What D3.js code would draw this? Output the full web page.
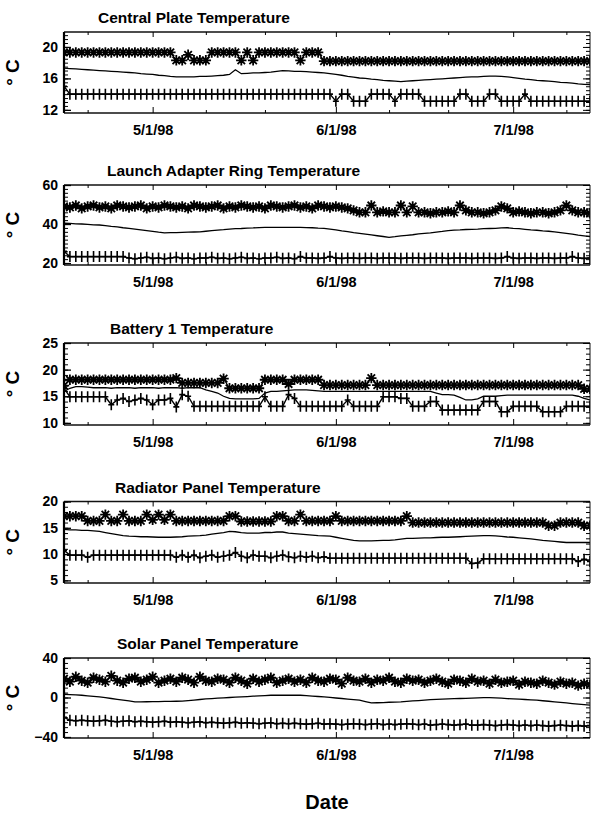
<!DOCTYPE html>
<html><head><meta charset="utf-8">
<script src="https://cdn.jsdelivr.net/npm/d3@7"></script>
<style>
body{margin:0;background:#fff}
svg{display:block}
text{font-family:"Liberation Sans",Arial,sans-serif;font-weight:bold;fill:#000}
</style>
</head><body><svg id="c" width="592" height="813"></svg>
<script>
// ---------------- data ----------------
const panelTitles = ["Central Plate Temperature","Launch Adapter Ring Temperature","Battery 1 Temperature","Radiator Panel Temperature","Solar Panel Temperature"];
const startDay = "1998-04-16", endDay = "1998-07-14";
const dateTicks = ["1998-05-01","1998-06-01","1998-07-01"];
const dateTickLabels = ["5/1/98","6/1/98","7/1/98"];
const dateMinorTicks = ["1998-04-20","1998-05-10","1998-05-20","1998-06-10","1998-06-20","1998-07-10"];
const yDomains = [[11.6,21.9],[19,60],[9.6,25],[4.5,20],[-41,40]];
const yTicks = [[12,16,20],[20,40,60],[10,15,20,25],[5,10,15,20],[-40,0,40]];
const yMinorSteps = [0.5,2,1,1,5];
const yAxisLabel = "° C";
const xAxisLabel = "Date";

// Central Plate
const cpMax = [19.3,19.3,19.3,19.3,19.3,19.3,19.3,19.3,19.3,19.3,
19.3,19.3,19.3,19.3,19.3,19.3,19.3,19.3,19.3,18.3,
18.3,19.0,18.3,18.3,18.3,19.3,19.3,19.3,19.3,19.3,
18.3,19.3,18.3,19.3,19.3,19.3,19.3,19.3,19.3,19.3,
18.3,19.3,19.3,19.3,18.2,18.2,18.2,18.2,18.2,18.2,
18.2,18.2,18.2,18.2,18.2,18.2,18.2,18.2,18.2,18.2,
18.2,18.2,18.2,18.2,18.2,18.2,18.2,18.2,18.2,18.2,
18.2,18.2,18.2,18.2,18.2,18.2,18.2,18.2,18.2,18.2,
18.2,18.2,18.2,18.2,18.2,18.2,18.2,18.2,18.2,18.2];
const cpAvg = [17.3,17.25,17.2,17.15,17.1,17.05,17.0,16.95,16.9,16.85,
16.8,16.75,16.7,16.6,16.55,16.5,16.4,16.35,16.25,16.2,
16.2,16.2,16.2,16.25,16.25,16.3,16.35,16.4,16.5,17.1,
16.6,16.65,16.7,16.7,16.75,16.8,16.9,17.0,16.95,16.9,
16.9,16.85,16.8,16.75,16.7,16.6,16.5,16.4,16.25,16.15,
16.05,16.0,15.9,15.85,15.75,15.7,15.65,15.6,15.65,15.7,
15.75,15.8,15.85,15.9,15.95,16.0,16.05,16.1,16.15,16.2,
16.2,16.25,16.3,16.3,16.25,16.2,16.1,16.0,15.9,15.85,
15.75,15.7,15.65,15.6,15.5,15.45,15.4,15.3,15.25,15.2];
const cpMin = [15.0,14,14,14,14,14,14,14,14,14,
14,14,14,14,14,14,14,14,14,14,
14,14,14,14,14,14,14,14,14,14,
14,14,14,14,14,14,14,14,14,14,
14,14,14,14,14,14,13.1,14,14,13.1,
13.1,13.1,14,14,14,14,13.1,14,14,14,
14,13.1,13.1,13.1,13.1,13.1,13.1,14,14,13.1,
13.1,13.1,14,14,13.1,13.1,13.1,13.1,14,13.1,
13.1,13.1,13.1,13.1,13.1,13.1,13.1,13.1,13.1,13.1];

// Launch Adapter Ring
const lrMax = [49,48.5,49.5,48,49,49.5,48.5,49,48,49.5,
49,48.5,49,49.5,48,49,48.5,49.5,49,48.5,
49,48,49.5,49,48.5,49,49.5,48,49,48.5,
49.5,49,48.5,49,48,49.5,49,48.5,49,49.5,
48.5,49,48,49.5,49,48.5,49,48.5,48,47,
46,46,49.5,46,46.5,46,46,49.5,46,49,
46,46,45.5,46,46,46.5,46,49.5,47,46,
46,45.5,46,47,49,48,46,46.5,46,45.5,
46,46,45.5,46,47,49.5,47,46,46,45.5];
const lrAvg = [40.4,40.3,40.1,40.0,39.8,39.6,39.5,39.2,38.8,38.5,
38.1,37.8,37.4,37.0,36.6,36.2,35.8,35.5,35.6,35.6,
35.7,35.8,35.9,36.0,36.3,36.6,36.9,37.1,37.4,37.6,
37.7,37.9,38.0,38.2,38.3,38.3,38.3,38.3,38.3,38.3,
38.3,38.2,38.1,37.9,37.8,37.4,37.0,36.5,36.1,35.6,
35.2,34.8,34.4,34.0,33.6,33.2,33.5,33.9,34.2,34.5,
34.9,35.2,35.5,35.9,36.2,36.6,36.9,37.0,37.2,37.3,
37.4,37.6,37.7,37.8,38.0,38.1,37.8,37.6,37.3,37.0,
36.8,36.5,36.3,36.0,35.6,35.2,34.8,34.3,33.9,33.5];
const lrMin = [26,23.3,23.3,23.3,23.3,23.3,23.3,23.3,23.3,23.3,
23.3,22.6,22.2,22.6,23.0,22.4,22.6,22.2,22.6,23.0,
22.4,22.6,22.2,22.6,22.6,23.0,22.4,22.6,22.2,22.6,
23.0,22.4,22.6,22.2,22.6,22.6,23.0,22.4,22.6,22.2,
23.3,22.6,22.6,22.4,22.6,23.3,22.6,22.4,22.6,22.6,
22.4,22.6,22.6,22.4,22.6,22.6,22.6,22.4,22.6,22.6,
22.6,22.4,22.6,22.6,22.6,22.4,22.6,22.6,22.6,22.4,
22.6,22.6,22.6,22.4,22.6,23.3,22.6,22.4,22.6,22.6,
22.4,22.6,22.6,22.4,22.6,22.6,23.3,22.6,22.4,22.6];

// Battery 1
const btMax = [17.0,18.1,18.1,18.1,18.1,18.1,18.1,18.1,18.1,18.1,
18.1,18.1,18.1,18.1,18.1,18.1,18.1,18.1,18.1,18.4,
17.5,17.5,17.5,17.5,17.5,17.5,17.5,18.3,16.5,16.5,
16.5,16.5,16.5,16.5,18.1,18.1,18.1,18.1,17.3,18.1,
18.1,18.1,18.1,18.1,17.1,17.1,17.1,17.1,17.1,17.1,
17.1,17.1,18.4,17.1,17.1,17.1,17.1,17.1,17.1,17.1,
17.1,17.1,17.1,17.1,17.1,17.1,17.1,17.1,17.1,17.1,
17.1,17.1,17.1,17.1,17.1,17.1,17.1,17.1,17.1,17.1,
17.1,17.1,17.1,17.1,17.1,17.1,17.1,17.1,16.4,16.4];
const btAvg = [15.9,16.5,16.8,16.8,16.7,16.6,16.6,16.6,16.5,16.6,
16.6,16.6,16.5,16.6,16.6,16.6,16.5,16.6,16.6,16.6,
16.5,16.6,16.6,16.6,16.2,15.9,15.6,15.0,14.6,14.5,
14.5,14.5,14.5,14.6,15.6,15.9,15.9,16.0,16.1,16.2,
16.2,16.2,16.1,16.0,15.9,15.9,15.9,15.9,15.9,15.9,
15.9,15.9,15.9,15.9,15.9,15.9,15.9,15.9,15.9,15.9,
15.9,15.9,15.9,15.6,15.3,15.3,15.2,14.8,14.3,14.3,
14.5,15.0,15.0,15.0,15.1,15.2,15.2,15.2,15.2,15.2,
15.2,15.2,15.2,15.2,15.2,15.2,15.2,15.0,14.6,14.3];
const btMin = [16.5,14.9,14.9,14.9,14.9,14.9,14.9,14.9,13.4,14.3,
14.6,14.0,14.3,14.6,14.3,13.4,14.3,14.3,14.6,13.0,
15.3,15.0,13.1,13.1,13.1,13.1,13.1,13.1,13.1,13.1,
13.1,13.1,13.1,13.1,14.9,13.1,13.1,13.1,15.3,14.6,
13.1,13.1,13.1,13.1,13.1,13.1,13.1,13.1,14.3,13.1,
13.1,13.1,13.1,13.1,14.9,14.9,14.9,14.6,14.6,13.1,
13.1,13.1,14.0,14.0,12.4,12.4,12.4,12.4,12.4,12.4,
12.4,14.0,14.0,14.0,12.1,12.1,13.1,13.1,13.1,13.1,
13.1,12.1,12.1,12.1,12.1,13.1,13.1,13.1,13.1,13.1];

// Radiator Panel
const rpMax = [17.2,17.2,17.2,17.2,16.3,16.3,16.3,17.5,16.3,16.3,
17.5,16.3,16.3,16.3,17.5,16.5,17.5,16.5,17.5,16.3,
16.3,16.3,16.3,16.3,16.3,16.3,16.3,16.3,17.2,17.2,
16.2,16.2,16.2,16.2,16.2,16.2,17.2,17.2,16.3,16.3,
17.5,16.3,16.3,16.3,16.3,16.3,17.2,16.3,16.3,16.3,
16.3,16.3,16.3,16.3,16.3,16.3,16.3,16.3,17.2,16.0,
16.0,16.0,16.0,16.0,16.0,16.0,16.0,16.0,16.0,16.0,
16.0,16.0,16.0,16.0,16.0,16.0,16.0,16.0,16.0,16.0,
16.0,16.0,15.4,15.4,16.0,16.0,16.0,16.0,15.4,15.4];
const rpAvg = [14.7,14.6,14.6,14.5,14.5,14.4,14.3,14.1,13.9,13.7,
13.5,13.4,13.35,13.3,13.3,13.25,13.2,13.2,13.2,13.25,
13.3,13.4,13.45,13.5,13.6,13.8,13.95,14.1,14.3,14.25,
14.1,14.0,14.0,14.0,14.1,14.1,14.2,14.2,14.0,13.9,
13.8,13.7,13.6,13.5,13.45,13.4,13.2,13.0,12.8,12.6,
12.5,12.5,12.5,12.55,12.6,12.6,12.7,12.85,13.0,13.0,
13.05,13.1,13.1,13.15,13.2,13.2,13.25,13.3,13.35,13.4,
13.45,13.5,13.5,13.45,13.35,13.25,13.2,13.1,13.0,12.9,
12.75,12.6,12.5,12.4,12.3,12.2,12.2,12.2,12.2,12.2];
const rpMin = [10.7,9.8,9.8,9.8,9.4,9.8,9.8,9.8,9.8,9.8,
9.8,9.8,9.8,9.8,9.8,9.8,9.8,9.8,9.8,9.4,
9.8,9.4,9.8,9.3,9.6,9.8,9.4,9.6,9.8,10.3,
9.6,9.3,9.8,9.6,9.6,9.3,9.6,9.8,9.5,9.3,
9.6,9.4,9.6,9.3,9.5,9.2,9.2,9.2,9.2,9.2,
9.2,9.2,9.2,9.2,9.2,9.2,9.2,9.2,9.2,9.2,
9.2,9.2,9.2,9.2,9.2,9.2,9.2,9.2,9.2,8.2,
8.3,9.1,9.1,9.1,9.1,9.1,9.1,9.1,9.1,9.1,
9.1,9.1,9.1,9.1,9.1,9.1,9.1,8.6,9.0,8.6];

// Solar Panel
const spMax = [19,16,21,17,15,20,18,16,22,17,
15,19,20,16,18,21,15,17,19,16,
20,18,15,21,17,16,19,18,15,20,
17,14,19,16,18,20,15,17,19,16,
18,15,20,17,16,19,18,14,20,17,
16,19,15,18,17,20,16,15,19,17,
18,15,17,19,16,14,18,17,15,19,
16,17,14,18,15,16,17,13,16,15,
14,17,15,13,16,14,15,12,14,13];
const spAvg = [3.3,3.0,2.6,2.3,1.7,1.2,0.6,-0.2,-1.0,-1.9,
-2.7,-3.5,-4.4,-4.4,-4.3,-4.2,-4.1,-4.0,-3.9,-3.8,
-3.7,-3.1,-2.6,-2.0,-1.4,-1.1,-0.7,-0.4,0.0,0.3,
0.6,0.9,1.3,1.6,2.0,2.3,2.3,2.3,2.3,2.3,
2.3,1.9,1.5,1.0,0.6,0.1,-0.5,-1.0,-1.6,-2.1,
-2.7,-4.1,-5.5,-5.3,-5.1,-4.8,-4.6,-4.4,-4.0,-3.5,
-3.1,-2.7,-2.2,-1.8,-1.6,-1.4,-1.2,-1.0,-0.8,-0.6,
-0.4,-0.2,-0.1,-0.4,-0.7,-1.1,-1.4,-1.7,-2.0,-2.4,
-2.7,-3.3,-3.8,-4.4,-5.0,-5.5,-6.1,-6.7,-7.2,-7.8];
const spMin = [-20,-23,-23.5,-23,-23.5,-24,-23.5,-23,-24,-24.5,
-24,-23.5,-24.5,-24,-24.5,-25,-24.5,-24,-25,-24.5,
-25,-25.5,-25,-24.5,-25.5,-25,-25.5,-26,-25.5,-25,
-26,-25.5,-26,-26.5,-26,-25.5,-26.5,-26,-26.5,-26,
-26.5,-27,-26.5,-26,-27,-26.5,-27,-27.5,-27,-26.5,
-27,-27.5,-27,-26.5,-27.5,-27,-27.5,-27,-26.5,-27,
-27.5,-27,-28,-27.5,-27,-27.5,-28,-27.5,-27,-28,
-28,-27.5,-28,-28.5,-28,-27.5,-28,-28.5,-28,-28.5,
-28,-28.5,-29,-28.5,-28,-28.5,-29,-28.5,-29,-28.5];

const panelSeries = [[cpMax,cpAvg,cpMin],[lrMax,lrAvg,lrMin],[btMax,btAvg,btMin],[rpMax,rpAvg,rpMin],[spMax,spAvg,spMin]];

// ---------------- layout ----------------
const frames = [[32,113],[185,265],[343,425],[501.5,583],[658,738]];
const titleX = [98,107,110,115,117];
const X0 = 64, X1 = 590;

const parse = d3.timeParse("%Y-%m-%d");
const days = d3.timeDay.range(parse(startDay), d3.timeDay.offset(parse(endDay),1));
const x = d3.scaleTime().domain([parse(startDay), parse(endDay)]).range([X0, X1]);

const svg = d3.select("#c");

function asterisk(cx, cy, r){
  const q = r*0.72;
  return `M${cx-r},${cy}L${cx+r},${cy}M${cx},${cy-r}L${cx},${cy+r}M${cx-q},${cy-q}L${cx+q},${cy+q}M${cx-q},${cy+q}L${cx+q},${cy-q}`;
}
function plus(cx, cy){
  return `M${cx-3},${cy}L${cx+3},${cy}M${cx},${cy-5.5}L${cx},${cy+5.5}`;
}

panelSeries.forEach((series, i) => {
  const [top, bot] = frames[i];
  const y = d3.scaleLinear().domain(yDomains[i]).range([bot, top]);
  const g = svg.append("g");

  const clipId = "clip" + i;
  svg.append("clipPath").attr("id", clipId).append("rect")
    .attr("x", X0).attr("y", top).attr("width", X1 - X0).attr("height", bot - top);

  // title
  g.append("text").attr("x", titleX[i]).attr("y", top - 9)
    .style("font-size", "15.5px").text(panelTitles[i]);

  // y label
  g.append("text").attr("transform", `translate(19,${(top+bot)/2}) rotate(-90)`)
    .attr("text-anchor", "middle").style("font-size", "19px").text(yAxisLabel);

  // data
  const dg = g.append("g").attr("clip-path", `url(#${clipId})`);
  const line = d3.line().x((d, k) => x(days[k])).y(d => y(d));
  const [mx, av, mn] = series;
  dg.append("path").attr("d", line(mx)).attr("fill", "none").attr("stroke", "#000").attr("stroke-width", 1.2);
  dg.append("path").attr("d", mx.map((v, k) => asterisk(x(days[k]), y(v), 5.2)).join(""))
    .attr("fill", "none").attr("stroke", "#000").attr("stroke-width", 1.8);
  dg.append("path").attr("d", line(av)).attr("fill", "none").attr("stroke", "#000").attr("stroke-width", 1.3);
  dg.append("path").attr("d", line(mn)).attr("fill", "none").attr("stroke", "#000").attr("stroke-width", 1.4);
  dg.append("path").attr("d", mn.map((v, k) => plus(x(days[k]), y(v))).join(""))
    .attr("fill", "none").attr("stroke", "#000").attr("stroke-width", 1.6);

  // frame
  g.append("line").attr("x1", X0).attr("x2", X1).attr("y1", top).attr("y2", top).attr("stroke", "#111").attr("stroke-width", 1.6);
  g.append("line").attr("x1", X0).attr("x2", X1).attr("y1", bot).attr("y2", bot).attr("stroke", "#111").attr("stroke-width", 1.6);
  g.append("line").attr("x1", X1).attr("x2", X1).attr("y1", top).attr("y2", bot).attr("stroke", "#111").attr("stroke-width", 1);
  g.append("line").attr("x1", X0).attr("x2", X0).attr("y1", top).attr("y2", bot).attr("stroke", "#000").attr("stroke-width", 2.2);

  // y axes
  const minorVals = d3.range(yDomains[i][0] <= yTicks[i][0] ? yTicks[i][0] - Math.floor((yTicks[i][0]-yDomains[i][0])/yMinorSteps[i])*yMinorSteps[i] : yTicks[i][0], yDomains[i][1] + 1e-9, yMinorSteps[i]);
  const yl = g.append("g").attr("transform", `translate(${X0},0)`)
    .call(d3.axisLeft(y).tickValues(yTicks[i]).tickSize(-7).tickPadding(6).tickFormat(d3.format("d")));
  yl.select(".domain").remove();
  yl.selectAll("text").style("font-size", "14px").style("font-family", '"Liberation Sans",Arial,sans-serif').style("font-weight", "bold");
  yl.selectAll("line").attr("stroke-width", 1.3);
  const ym = g.append("g").attr("transform", `translate(${X0},0)`)
    .call(d3.axisLeft(y).tickValues(minorVals).tickSize(-4).tickFormat(""));
  ym.select(".domain").remove();
  const yr = g.append("g").attr("transform", `translate(${X1},0)`)
    .call(d3.axisRight(y).tickValues(yTicks[i]).tickSize(-7).tickFormat(""));
  yr.select(".domain").remove();
  const yrm = g.append("g").attr("transform", `translate(${X1},0)`)
    .call(d3.axisRight(y).tickValues(minorVals).tickSize(-4).tickFormat(""));
  yrm.select(".domain").remove();

  // x axes
  const xb = g.append("g").attr("transform", `translate(0,${bot})`)
    .call(d3.axisBottom(x).tickValues(dateTicks.map(parse)).tickSize(-6).tickPadding(12)
      .tickFormat((d, k) => dateTickLabels[k]));
  xb.select(".domain").remove();
  xb.selectAll("text").style("font-size", "14.5px").style("font-family", '"Liberation Sans",Arial,sans-serif').style("font-weight", "bold");
  const xbm = g.append("g").attr("transform", `translate(0,${bot})`)
    .call(d3.axisBottom(x).tickValues(dateMinorTicks.map(parse)).tickSize(-3).tickFormat(""));
  xbm.select(".domain").remove();
  const xt = g.append("g").attr("transform", `translate(0,${top})`)
    .call(d3.axisTop(x).tickValues(dateTicks.map(parse)).tickSize(-5).tickFormat(""));
  xt.select(".domain").remove();
  const xtm = g.append("g").attr("transform", `translate(0,${top})`)
    .call(d3.axisTop(x).tickValues(dateMinorTicks.map(parse)).tickSize(-3).tickFormat(""));
  xtm.select(".domain").remove();
});

svg.append("text").attr("x", 327).attr("y", 809).attr("text-anchor", "middle")
  .style("font-size", "20px").text(xAxisLabel);
</script>
</body></html>
